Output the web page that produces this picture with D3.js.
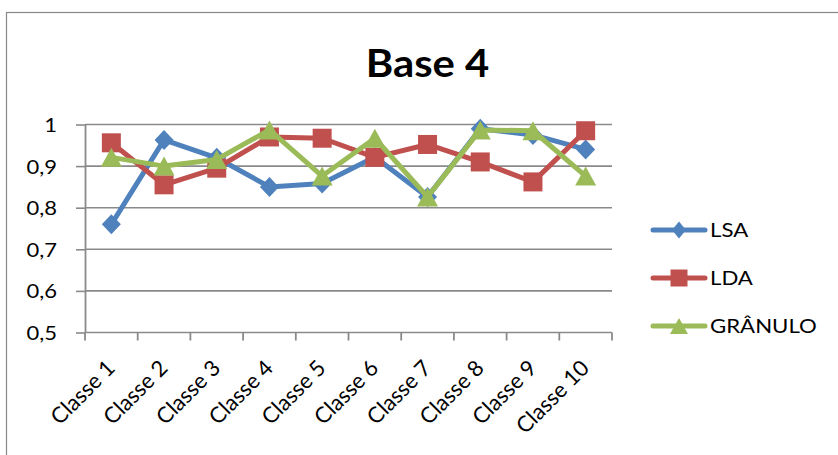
<!DOCTYPE html>
<html>
<head>
<meta charset="utf-8">
<script src="https://cdn.jsdelivr.net/npm/d3@7"></script>
<style>
  html, body { margin: 0; padding: 0; background: #fff; }
  svg { display: block; }
  text { font-family: Lato, "Open Sans", sans-serif; fill: #000; }
</style>
</head>
<body>
<svg id="chart" width="838" height="455"></svg>
<script>
// Category labels and the three series
const categories = ["Classe 1", "Classe 2", "Classe 3", "Classe 4", "Classe 5",
                    "Classe 6", "Classe 7", "Classe 8", "Classe 9", "Classe 10"];
const lsa     = [0.76, 0.963, 0.92, 0.85, 0.858, 0.922, 0.826, 0.99, 0.975, 0.94];
const lda     = [0.956, 0.855, 0.895, 0.97, 0.967, 0.921, 0.952, 0.91, 0.862, 0.985];
const granulo = [0.921, 0.90, 0.916, 0.987, 0.876, 0.967, 0.826, 0.987, 0.985, 0.876];
const seriesNames = ["LSA", "LDA", "GRÂNULO"];
const yTicks = [0.5, 0.6, 0.7, 0.8, 0.9, 1];

// Marker shapes (w = width, h = height), centred on the data point
const diamond  = (w, h) => `M0,${-h/2}L${w/2},0L0,${h/2}L${-w/2},0Z`;
const square   = (w, h) => `M${-w/2},${-h/2}h${w}v${h}h${-w}Z`;
const triangle = (w, h) => `M0,${-h/2}L${w/2},${h/2}L${-w/2},${h/2}Z`;

const series = [
  { name: seriesNames[0], values: lsa,     color: "#4F81BD", shape: diamond(19, 20),  legendShape: diamond(14, 17) },
  { name: seriesNames[1], values: lda,     color: "#C0504D", shape: square(19, 19),   legendShape: square(17, 17) },
  { name: seriesNames[2], values: granulo, color: "#9BBB59", shape: triangle(21, 19), legendShape: triangle(18, 16) }
];

const svg = d3.select("#chart");
const W = 838, H = 455;
const plot = { left: 85, right: 612, top: 124.5, bottom: 332.5 };
const stretch = 1.2;   // legend text is drawn slightly widened

// Outer chart frame
svg.append("rect")
  .attr("x", 6.5).attr("y", 12.5)
  .attr("width", W + 10).attr("height", H + 10)
  .attr("fill", "#fff").attr("stroke", "#888").attr("stroke-width", 1.2);

// Title
svg.append("text")
  .attr("transform", `translate(427.5,77) scale(1.1,1)`)
  .attr("text-anchor", "middle")
  .attr("font-size", 38).attr("font-weight", "bold")
  .text("Base 4");

const x = d3.scaleBand().domain(categories).range([plot.left, plot.right]);
const y = d3.scaleLinear().domain([0.5, 1]).range([plot.bottom, plot.top]);
const cx = c => x(c) + x.bandwidth() / 2;

// Horizontal gridlines
svg.append("g")
  .selectAll("line").data(yTicks.slice(1)).join("line")
  .attr("x1", plot.left).attr("x2", plot.right)
  .attr("y1", d => y(d)).attr("y2", d => y(d))
  .attr("stroke", "#8a8a8a").attr("stroke-width", 1.6);

// Y axis
const yAxis = svg.append("g")
  .attr("transform", `translate(${plot.left},0)`)
  .call(d3.axisLeft(y).tickValues(yTicks).tickSizeInner(9).tickSizeOuter(0)
        .tickFormat(d => String(d).replace(".", ",")));
yAxis.select(".domain").attr("stroke", "#8a8a8a").attr("stroke-width", 1.8);
yAxis.selectAll(".tick line").attr("stroke", "#8a8a8a").attr("stroke-width", 1.6);
yAxis.selectAll(".tick text")
  .attr("x", null).attr("dy", null)
  .attr("transform", "translate(-28,7) scale(1.1,1)")
  .attr("font-size", 20)
  .style("font-family", "Lato, 'Open Sans', sans-serif").attr("fill", "#000");

// X axis: line plus tick marks at category boundaries
const xg = svg.append("g");
xg.append("line")
  .attr("x1", plot.left).attr("x2", plot.right)
  .attr("y1", plot.bottom).attr("y2", plot.bottom)
  .attr("stroke", "#8a8a8a").attr("stroke-width", 1.6);
const bounds = categories.map(c => x(c)).concat([x(categories[categories.length - 1]) + x.bandwidth()]);
xg.selectAll("line.tk").data(bounds).join("line")
  .attr("class", "tk")
  .attr("x1", d => d).attr("x2", d => d)
  .attr("y1", plot.bottom).attr("y2", plot.bottom + 8)
  .attr("stroke", "#8a8a8a").attr("stroke-width", 1.8);
xg.selectAll("text").data(categories).join("text")
  .attr("transform", d => `translate(${cx(d) + 5},${plot.bottom + 37}) rotate(-45)`)
  .attr("text-anchor", "end")
  .attr("font-size", 22)
  .text(d => d);

// Series lines and markers
const line = d3.line()
  .x((d, i) => cx(categories[i]))
  .y(d => y(d));

series.forEach(s => {
  const g = svg.append("g");
  g.append("path")
    .attr("d", line(s.values))
    .attr("fill", "none").attr("stroke", s.color)
    .attr("stroke-width", 5).attr("stroke-linejoin", "round").attr("stroke-linecap", "round");
  g.selectAll("path.m").data(s.values).join("path")
    .attr("class", "m")
    .attr("transform", (d, i) => `translate(${cx(categories[i])},${y(d)})`)
    .attr("d", s.shape)
    .attr("fill", s.color);
});

// Legend
const legend = svg.append("g");
series.forEach((s, i) => {
  const ly = 230 + i * 48;
  legend.append("line")
    .attr("x1", 653).attr("x2", 705).attr("y1", ly).attr("y2", ly)
    .attr("stroke", s.color).attr("stroke-width", 5).attr("stroke-linecap", "round");
  legend.append("path")
    .attr("transform", `translate(679,${ly})`)
    .attr("d", s.legendShape)
    .attr("fill", s.color);
  legend.append("text")
    .attr("transform", `translate(710,${ly + 7}) scale(${stretch},1)`)
    .attr("font-size", 18.5)
    .text(s.name);
});
</script>
</body>
</html>
